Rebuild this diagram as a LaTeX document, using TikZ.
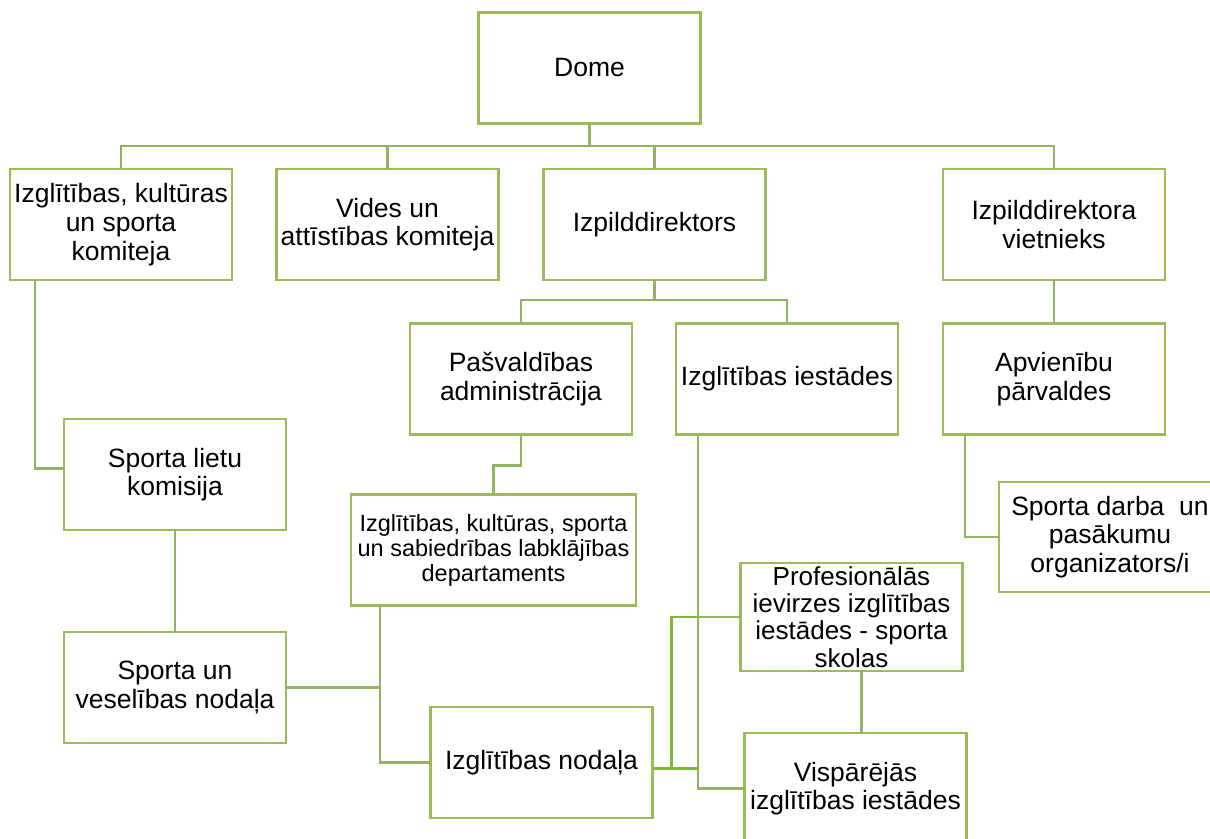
\documentclass[tikz,border=0pt]{standalone}
\usepackage{fontspec}
\setmainfont{Liberation Sans}
\definecolor{boxgreen}{RGB}{155,187,89}
\definecolor{linegreen}{RGB}{146,178,100}
\definecolor{brightgreen}{RGB}{125,186,60}
\begin{document}
\begin{tikzpicture}[x=1pt,y=-1pt,
  box/.style={draw=boxgreen, line width=2.8pt, minimum width=222pt, minimum height=111pt,
    inner sep=0pt, outer sep=0pt, align=center, font=\fontsize{26.5}{28.7}\selectfont},
  conn/.style={draw=linegreen, line width=2.5pt},
  bconn/.style={draw=brightgreen, line width=2.5pt}]
\useasboundingbox (0,0) rectangle (1210,838);
\node[box] (dome) at (589.5,68) {Dome};
\node[box] (k1) at (121,224.5) {Izglītības, kultūras\\un sporta\\komiteja};
\node[box] (k2) at (387.5,224.5) {Vides un\\attīstības komiteja};
\node[box] (izp) at (654.5,224.5) {Izpilddirektors};
\node[box] (viet) at (1054,224.5) {Izpilddirektora\\vietnieks};
\node[box] (adm) at (521,379) {Pašvaldības\\administrācija};
\node[box] (iest) at (787,379) {Izglītības iestādes};
\node[box] (apv) at (1054,379) {Apvienību\\pārvaldes};
\node[box] (slk) at (175,474.5) {Sporta lietu\\komisija};
\node[box] (svn) at (175,687.5) {Sporta un\\veselības nodaļa};
\node[box, minimum width=285pt, font=\fontsize{23.5}{25}\selectfont] (dept) at (493.5,550) {Izglītības, kultūras, sporta\\un sabiedrības labklājības\\departaments};
\node[box] (nod) at (541.5,762.5) {Izglītības nodaļa};
\node[box, minimum height=108pt, font=\fontsize{26}{27.2}\selectfont] (prof) at (851.5,617) {Profesionālās\\ievirzes izglītības\\iestādes - sporta\\skolas};
\node[box] (visp) at (855.5,788.5) {Vispārējās\\izglītības iestādes};
\node[box, minimum height=110pt] (sdo) at (1110,537) {Sporta darba~ un\\pasākumu\\organizators/i};
% top bus
\coordinate (bus) at (0,146);
\draw[conn] (dome.south) -- (dome.south |- bus);
\draw[conn] (k1.north) -- (k1.north |- bus) -- (viet.north |- bus) -- (viet.north);
\draw[conn] (k2.north) -- (k2.north |- bus);
\draw[conn] (izp.north) -- (izp.north |- bus);
% izpilddirektors
\coordinate (b2) at (0,300);
\draw[conn] (izp.south) -- (izp.south |- b2);
\draw[conn] (adm.north) -- (adm.north |- b2) -- (iest.north |- b2) -- (iest.north);
\draw[conn] (viet.south) -- (apv.north);
% committee
\draw[conn] ([xshift=25pt]k1.south west) |- ([yshift=6pt]slk.west);
\draw[conn] (slk.south) -- (svn.north);
% administration
\draw[conn] (adm.south) -- ++(0,31) -| (dept.north);
\coordinate (dj) at ([xshift=29pt]dept.south west);
\draw[conn] (dj) |- (nod.west);
\draw[conn] (svn.east) -- (svn.east -| dj);
% iestades
\coordinate (ij) at ([xshift=22pt]iest.south west);
\draw[conn] (ij) |- (visp.west);
\draw[conn] (prof.west) -- (prof.west -| ij);
\coordinate (ne) at ([yshift=-6pt]nod.east);
\draw[bconn] (ne) -- (ne -| ij);
\draw[bconn] ([xshift=19pt]ne) |- (prof.west -| ij);
\draw[conn] ([xshift=10pt]prof.south) -- ([xshift=10pt]prof.south |- visp.north);
% apvienibas
\draw[conn] ([xshift=22pt]apv.south west) |- (sdo.west);
\end{tikzpicture}
\end{document}
